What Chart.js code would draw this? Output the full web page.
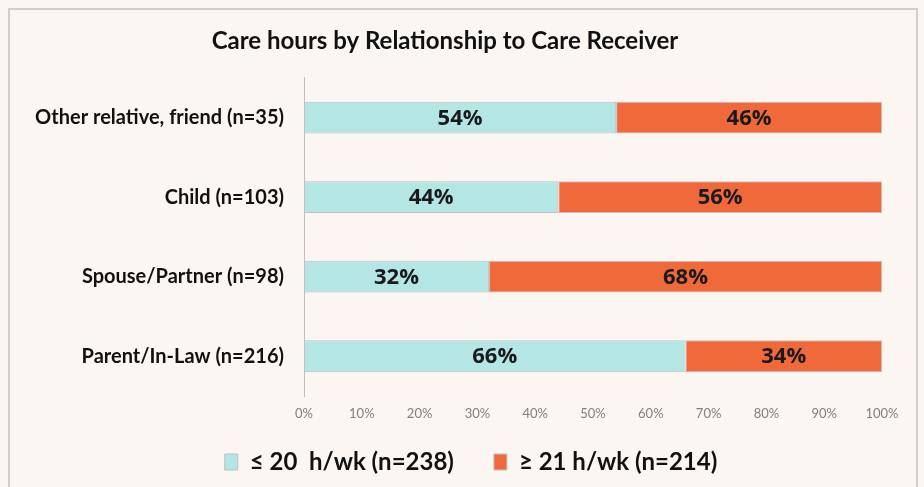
<!DOCTYPE html>
<html>
<head>
<meta charset="utf-8">
<script src="https://cdn.jsdelivr.net/npm/chart.js@4.4.1/dist/chart.umd.min.js"></script>
<style>
  html, body { margin: 0; padding: 0; background: #fcf6f2; }
  #wrap { position: relative; width: 924px; height: 487px; overflow: hidden; }
  #frame { position: absolute; left: 8px; top: 8px; width: 910px; height: 500px; border: 2px solid #cfcfcf; box-sizing: border-box; }
  canvas { position: absolute; left: 0; top: 0; }
</style>
</head>
<body>
<div id="wrap">
  <div id="frame"></div>
  <canvas id="myChart" width="924" height="487"></canvas>
</div>
<script>
const categories = ['Other relative, friend (n=35)', 'Child (n=103)', 'Spouse/Partner (n=98)', 'Parent/In-Law (n=216)'];
const lowHours = [54, 44, 32, 66];
const highHours = [46, 56, 68, 34];
const seriesNames = ['\u2264 20  h/wk (n=238)', '\u2265 21 h/wk (n=214)'];
const xTicks = [0, 10, 20, 30, 40, 50, 60, 70, 80, 90, 100];

// labels in the middle of every bar piece
const barLabels = {
    id: 'barLabels',
    afterDatasetsDraw(chart) {
        const c = chart.ctx;
        c.save();
        c.font = 'bold 22px "Open Sans"';
        c.fillStyle = '#1a1a1a';
        c.textAlign = 'center';
        c.textBaseline = 'middle';
        chart.data.datasets.forEach(function(ds, i) {
            chart.getDatasetMeta(i).data.forEach(function(bar, j) {
                const p = bar.getCenterPoint();
                c.fillText(ds.data[j] + '%', p.x, p.y + 1);
            });
        });
        c.restore();
    }
};

// the wide legend padding also pushes the items down/left, move the legend back
const legendShift = {
    id: 'legendShift',
    afterLayout(chart) {
        chart.legend.top -= 14;
        chart.legend.bottom -= 14;
        chart.legend.left += 26;
        chart.legend.right += 26;
    }
};

const ctx = document.getElementById('myChart').getContext('2d');
const myChart = new Chart(ctx, {
    type: 'bar',
    data: {
        labels: categories,
        datasets: [{
            label: seriesNames[0],
            data: lowHours,
            backgroundColor: '#b3e6e4',
            borderColor: '#c0c0c0',
            borderWidth: 1,
            borderSkipped: false
        }, {
            label: seriesNames[1],
            data: highHours,
            backgroundColor: '#f0693a',
            borderColor: '#c0c0c0',
            borderWidth: 1,
            borderSkipped: false
        }]
    },
    plugins: [barLabels, legendShift],
    options: {
        indexAxis: 'y',
        responsive: false,
        animation: false,
        layout: { padding: { left: 8, right: 42, top: 25, bottom: -5 } },
        datasets: { bar: { barPercentage: 0.4, categoryPercentage: 1 } },
        scales: {
            x: {
                stacked: true,
                min: 0,
                max: 100,
                afterBuildTicks: function(scale) { scale.ticks = xTicks.map(v => ({ value: v })); },
                afterFit: function(scale) { scale.height = 28; },
                grid: { display: false, drawTicks: false },
                border: { display: false },
                ticks: {
                    padding: 10,
                    color: '#7f7f7f',
                    font: { family: 'Lato', size: 13 },
                    callback: v => v + '%'
                }
            },
            y: {
                stacked: true,
                afterFit: function(scale) { scale.width = 296; },
                grid: { display: false, drawTicks: false },
                border: { display: true, color: '#bfbfbf', width: 1 },
                ticks: {
                    padding: 20,
                    color: '#111111',
                    font: { family: 'Lato', size: 20, weight: 'bold' }
                }
            }
        },
        plugins: {
            title: {
                display: true,
                text: 'Care hours by Relationship to Care Receiver',
                color: '#111111',
                font: { family: 'Lato', size: 24, weight: 'bold' },
                padding: { top: 2, bottom: 22 }
            },
            legend: {
                position: 'bottom',
                maxHeight: 68,
                labels: {
                    color: '#111111',
                    font: { family: 'Lato', size: 24, weight: 'bold' },
                    boxWidth: 13,
                    boxHeight: 16,
                    padding: 40
                }
            },
            tooltip: { enabled: false }
        }
    }
});
</script>
</body>
</html>
